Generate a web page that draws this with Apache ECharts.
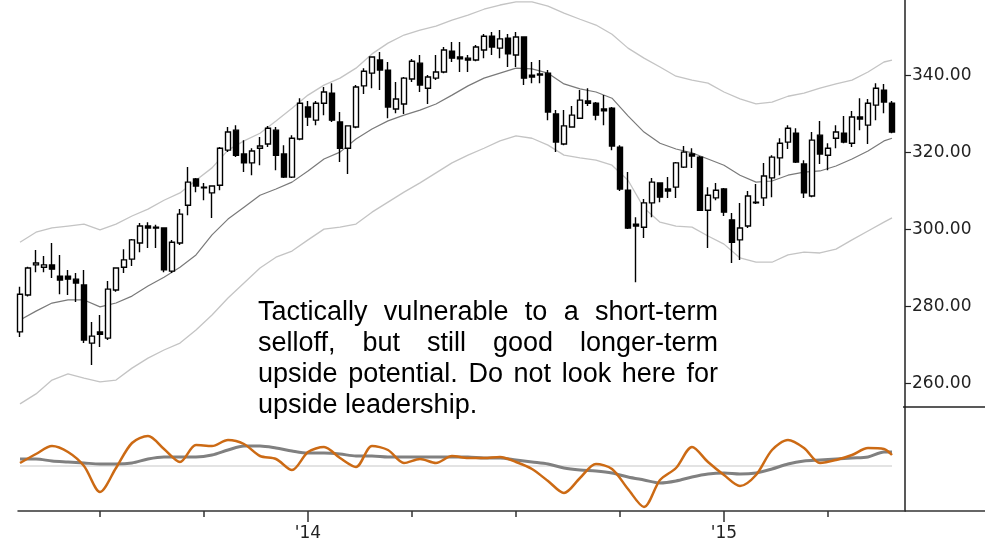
<!DOCTYPE html>
<html>
<head>
<meta charset="utf-8">
<script src="https://cdn.jsdelivr.net/npm/echarts@6/dist/echarts.min.js"></script>
<style>
  html, body { margin: 0; padding: 0; background: #fff; }
  #chart { width: 985px; height: 547px; }
</style>
</head>
<body>
<div id="chart"></div>
<script>
// weekly bars, first bar = week of 2013-04-29; [open, close, low, high]
const candles = [
  [273.3, 283.1, 272.0, 285.0], [282.9, 289.9, 282.5, 290.2], [290.7, 291.2, 288.8, 294.6], [290.1, 290.7, 288.8, 293.0],
  [290.7, 289.6, 287.3, 296.4], [287.8, 286.8, 283.1, 293.3], [287.8, 287.0, 282.9, 289.4], [287.0, 286.0, 281.1, 288.6],
  [285.5, 271.2, 270.4, 289.4], [270.4, 272.2, 264.7, 275.9], [273.3, 272.7, 269.4, 277.7], [271.7, 284.4, 271.2, 286.5],
  [284.2, 289.9, 283.7, 290.1], [290.1, 292.0, 288.6, 294.8], [292.2, 297.2, 290.4, 297.4], [296.4, 300.8, 294.0, 301.6],
  [300.8, 300.3, 295.1, 301.8], [300.5, 300.3, 295.1, 301.1], [300.3, 289.4, 288.8, 300.5], [289.1, 296.6, 288.6, 297.2],
  [296.4, 303.9, 295.9, 305.2], [306.2, 312.2, 303.6, 316.1], [313.0, 311.2, 309.6, 313.3], [310.9, 310.7, 307.5, 312.0],
  [309.4, 311.2, 302.9, 311.4], [311.4, 321.0, 310.1, 321.3], [320.5, 325.2, 320.0, 326.5], [325.7, 319.2, 318.7, 327.0],
  [319.5, 317.2, 314.8, 323.1], [317.2, 320.3, 314.0, 321.0], [321.0, 321.6, 316.6, 323.9], [322.1, 326.2, 321.3, 326.8],
  [325.7, 319.2, 315.3, 326.5], [319.5, 313.5, 313.3, 321.8], [313.5, 323.6, 313.3, 324.4], [323.4, 332.7, 323.1, 334.0],
  [331.7, 329.1, 326.8, 333.3], [328.3, 332.7, 327.0, 333.3], [332.7, 335.6, 329.6, 336.9], [335.3, 328.3, 327.8, 337.9],
  [327.8, 321.0, 317.4, 330.4], [321.0, 326.8, 314.3, 327.0], [326.5, 336.9, 326.2, 337.4], [337.2, 341.0, 335.1, 341.8],
  [340.5, 344.7, 336.6, 344.9], [343.9, 341.3, 336.1, 346.0], [341.3, 331.7, 328.8, 343.4], [331.2, 333.8, 330.1, 338.2],
  [332.5, 339.2, 329.9, 339.5], [339.0, 343.6, 338.2, 344.2], [343.1, 337.4, 335.6, 345.2], [336.6, 339.5, 332.5, 340.0],
  [339.2, 340.8, 338.7, 345.2], [340.8, 346.5, 340.5, 347.3], [346.2, 344.4, 343.4, 348.6], [344.7, 344.2, 340.8, 348.6],
  [344.4, 343.9, 340.8, 345.2], [343.9, 347.3, 343.6, 347.8], [346.5, 350.1, 344.4, 350.7], [350.1, 347.3, 345.2, 351.2],
  [347.0, 349.4, 344.4, 351.7], [349.6, 345.5, 342.1, 350.7], [345.2, 349.9, 342.1, 351.2], [349.9, 339.2, 337.4, 350.1],
  [340.0, 339.5, 337.9, 343.4], [340.0, 340.3, 337.9, 343.9], [340.5, 330.4, 328.3, 341.3], [329.9, 322.6, 320.0, 330.9],
  [322.1, 326.8, 321.8, 330.9], [326.5, 329.6, 326.3, 332.0], [328.8, 333.5, 328.6, 336.1], [333.3, 332.7, 332.0, 336.6],
  [332.7, 329.6, 328.3, 333.0], [331.2, 330.7, 327.0, 334.8], [331.4, 321.6, 320.5, 331.7], [321.3, 310.4, 309.9, 321.8],
  [310.1, 300.3, 300.0, 314.8], [301.3, 300.8, 286.2, 303.1], [300.5, 306.8, 297.7, 307.8], [306.8, 312.2, 303.1, 313.3],
  [312.0, 308.3, 307.0, 312.2], [310.4, 309.9, 308.1, 313.5], [310.9, 317.2, 308.1, 317.4], [316.1, 320.0, 315.9, 321.6],
  [319.5, 319.0, 315.9, 321.0], [318.7, 304.9, 304.7, 319.0], [304.9, 308.8, 295.1, 310.9], [308.1, 310.1, 307.5, 312.0],
  [310.4, 304.4, 303.4, 310.7], [302.4, 296.6, 291.2, 304.2], [297.2, 300.3, 292.0, 306.8], [300.8, 308.6, 300.3, 309.9],
  [307.0, 306.8, 306.5, 311.7], [308.1, 313.8, 306.0, 317.2], [313.3, 318.7, 308.3, 319.2], [318.5, 322.3, 314.0, 323.6],
  [322.6, 326.2, 320.8, 327.0], [324.9, 317.4, 317.2, 326.2], [316.9, 309.4, 308.1, 317.9], [308.6, 323.1, 308.3, 325.2],
  [324.4, 319.5, 316.9, 328.1], [319.2, 321.0, 315.3, 322.3], [323.6, 325.2, 321.0, 327.0], [324.9, 322.6, 322.3, 329.4],
  [322.3, 329.1, 321.3, 330.7], [329.1, 328.6, 325.7, 334.0], [327.0, 332.7, 322.1, 333.8], [332.2, 336.6, 328.3, 337.9],
  [336.1, 333.0, 330.1, 337.7], [332.7, 325.2, 324.9, 333.3]
];

// bar indexes where the channel and oscillator lines were read
const lineIdx = [0, 2, 4, 6, 8, 10, 12, 14, 16, 18, 20, 22, 24, 26, 28, 30, 32, 34, 36, 38, 40, 42, 44, 46, 48, 50,
  52, 54, 56, 58, 60, 62, 64, 66, 68, 70, 72, 74, 76, 78, 80, 82, 84, 86, 88, 90, 92, 94, 96, 98, 100, 102, 104, 106, 108, 109];

const upperBand = [296.6, 299.2, 300.3, 300.8, 301.3, 299.8, 301.3, 303.4, 305.2, 307.5, 309.4, 312.7, 315.9, 320.5,
  322.9, 324.9, 328.1, 331.4, 334.8, 337.4, 339.2, 341.8, 345.5, 348.3, 350.4, 351.7, 352.7, 354.3, 355.6, 357.1,
  358.2, 359.0, 359.0, 357.9, 356.1, 354.5, 353.0, 350.6, 347.0, 344.4, 342.1, 339.7, 338.7, 337.9, 335.6, 333.8,
  332.5, 333.0, 334.5, 335.3, 336.6, 337.7, 338.7, 340.8, 343.4, 343.9];

const middleBand = [276.4, 278.7, 280.8, 281.6, 281.6, 279.8, 280.8, 282.6, 285.2, 287.5, 290.1, 293.3, 298.5, 302.6,
  305.7, 308.8, 310.4, 312.2, 315.1, 318.2, 320.0, 323.4, 326.0, 328.1, 329.6, 330.9, 332.5, 334.8, 337.2, 339.2,
  340.5, 341.8, 341.6, 340.5, 337.7, 336.4, 335.6, 334.0, 329.4, 325.2, 322.3, 320.8, 319.8, 318.2, 316.6, 314.0,
  312.2, 312.5, 314.0, 314.8, 315.1, 316.4, 318.2, 320.3, 322.9, 323.6];

const lowerBand = [254.6, 257.2, 260.8, 262.4, 261.3, 260.3, 260.8, 263.9, 266.5, 268.6, 270.4, 273.8, 277.7, 282.1,
  286.0, 289.9, 292.7, 294.3, 297.2, 300.0, 300.5, 301.3, 304.4, 307.0, 309.6, 312.0, 314.6, 317.2, 319.2, 321.0,
  322.9, 324.2, 323.6, 321.8, 319.2, 318.5, 317.9, 316.6, 312.7, 305.5, 301.8, 300.8, 300.5, 298.2, 296.1, 292.5,
  291.4, 291.4, 293.3, 294.0, 293.8, 294.8, 297.2, 299.5, 301.8, 302.9];

const oscFast = [0.3, 1.2, 2.0, 1.4, 0.0, -2.6, -0.2, 2.3, 3.0, 1.7, 0.4, 2.1, 2.0, 2.6, 2.2, 1.0, 0.7, -0.4, 1.4, 1.9,
  0.8, -0.1, 2.0, 1.6, 0.3, 0.7, 0.3, 1.0, 0.8, 0.8, 0.9, 0.4, -0.3, -1.5, -2.7, -1.2, 0.2, -0.3, -2.3, -4.1,
  -1.4, -0.2, 1.9, 0.4, -0.9, -2.0, -0.9, 1.6, 2.6, 1.8, 0.3, 0.6, 1.1, 1.8, 1.7, 1.1];

const oscSlow = [0.7, 0.7, 0.5, 0.4, 0.3, 0.2, 0.2, 0.3, 0.7, 0.9, 0.9, 0.9, 1.1, 1.6, 2.0, 2.0, 1.8, 1.5, 1.3, 1.3,
  1.2, 1.0, 1.0, 0.9, 0.9, 0.9, 0.9, 0.9, 0.9, 0.8, 0.8, 0.6, 0.4, 0.2, -0.2, -0.4, -0.5, -0.7, -1.1, -1.4,
  -1.7, -1.5, -1.1, -0.8, -0.7, -0.8, -0.7, -0.3, 0.2, 0.5, 0.6, 0.7, 0.8, 0.9, 1.4, 1.4];

const zeroLevel = 0;
const priceTicks = [260, 280, 300, 320, 340];
const quarterTicks = [10, 23, 36, 49, 62, 75, 88, 101];   // Jul '13 ... Apr '15
const yearTicks = [36, 88];
const yearLabels = ["'14", "'15"];

const noteLines = [
  'Tactically vulnerable to a short-term',
  'selloff, but still good longer-term',
  'upside potential. Do not look here for',
  'upside leadership.'
];

const NOTE_FONT = '27px "Liberation Sans", Arial, sans-serif';
const AXIS_FONT = 'DejaVu Sans';

const pairs = (vals) => vals.map((v, k) => [lineIdx[k], v]);

// justified paragraph: every line but the last is stretched to the box width
function noteGraphics(left, right, firstY, lineGap) {
  const ctx = document.createElement('canvas').getContext('2d');
  ctx.font = NOTE_FONT;
  const space = ctx.measureText(' ').width;
  const out = [];
  noteLines.forEach((line, n) => {
    const words = line.split(' ');
    const widths = words.map(w => ctx.measureText(w).width);
    const total = widths.reduce((a, b) => a + b, 0);
    const last = n === noteLines.length - 1;
    const gap = last ? space : Math.max(space * 0.8, (right - left - total) / (words.length - 1));
    let x = left;
    words.forEach((w, k) => {
      out.push({
        type: 'text', x: x, y: firstY + n * lineGap, silent: true,
        style: { text: w, font: NOTE_FONT, fill: '#000', verticalAlign: 'middle' }
      });
      x += widths[k] + gap;
    });
  });
  return out;
}

const chart = echarts.init(document.getElementById('chart'));

const xBase = { type: 'value', min: -0.25, max: 110.625, splitLine: { show: false } };

chart.setOption({
  animation: false,
  backgroundColor: '#fff',
  grid: [
    { left: 18, right: 80, top: 0, height: 407 },
    { left: 18, right: 80, top: 407, height: 104 }
  ],
  xAxis: [
    Object.assign({ gridIndex: 0, show: false }, xBase),
    Object.assign({
      gridIndex: 1, position: 'bottom',
      axisLine: { show: true, onZero: false, lineStyle: { color: '#333', width: 1.5 } },
      axisTick: { show: true, length: 6, customValues: quarterTicks, lineStyle: { color: '#333', width: 1.5 } },
      axisLabel: { show: false }
    }, xBase),
    Object.assign({
      gridIndex: 1, position: 'bottom',
      axisLine: { show: false, onZero: false },
      axisTick: { show: true, length: 11, customValues: yearTicks, lineStyle: { color: '#333', width: 1.5 } },
      axisLabel: {
        customValues: yearTicks,
        formatter: (v) => yearLabels[yearTicks.indexOf(v)],
        fontFamily: AXIS_FONT, fontSize: 17, color: '#222', margin: 14
      }
    }, xBase)
  ],
  yAxis: [
    {
      gridIndex: 0, type: 'value', position: 'right', min: 253.8, max: 359.5,
      splitLine: { show: false },
      axisLine: { show: true, onZero: false, lineStyle: { color: '#222', width: 1.5 } },
      axisTick: { show: true, length: 6, customValues: priceTicks, lineStyle: { color: '#222', width: 1.2 } },
      axisLabel: {
        customValues: priceTicks,
        formatter: (v) => v.toFixed(2),
        fontFamily: AXIS_FONT, fontSize: 17, color: '#222', margin: 7
      }
    },
    {
      gridIndex: 1, type: 'value', position: 'right', min: -4.5, max: 5.9,
      splitLine: { show: false },
      axisLine: { show: true, onZero: false, lineStyle: { color: '#222', width: 1.5 } },
      axisTick: { show: false },
      axisLabel: { show: false }
    }
  ],
  series: [
    {
      type: 'line', xAxisIndex: 0, yAxisIndex: 0, data: pairs(upperBand),
      symbol: 'none', lineStyle: { color: '#c4c4c4', width: 1.3 }, z: 1
    },
    {
      type: 'line', xAxisIndex: 0, yAxisIndex: 0, data: pairs(lowerBand),
      symbol: 'none', lineStyle: { color: '#c4c4c4', width: 1.3 }, z: 1
    },
    {
      type: 'line', xAxisIndex: 0, yAxisIndex: 0, data: pairs(middleBand),
      symbol: 'none', lineStyle: { color: '#7a7a7a', width: 1.2 }, z: 1
    },
    {
      type: 'candlestick', xAxisIndex: 0, yAxisIndex: 0,
      data: candles.map((c, i) => [i, c[0], c[1], c[2], c[3]]),
      encode: { x: 0, y: [1, 2, 3, 4] },
      barWidth: 5,
      itemStyle: {
        color: '#fff', color0: '#000',
        borderColor: '#000', borderColor0: '#000', borderWidth: 1.4
      },
      z: 3
    },
    {
      type: 'line', xAxisIndex: 1, yAxisIndex: 1,
      data: [[0, zeroLevel], [candles.length - 1, zeroLevel]],
      symbol: 'none', lineStyle: { color: '#c8c8c8', width: 1.2 }, z: 1
    },
    {
      type: 'line', xAxisIndex: 1, yAxisIndex: 1, data: pairs(oscSlow),
      symbol: 'none', smooth: 0.3, lineStyle: { color: '#808080', width: 3 }, z: 2
    },
    {
      type: 'line', xAxisIndex: 1, yAxisIndex: 1, data: pairs(oscFast),
      symbol: 'none', smooth: 0.3, lineStyle: { color: '#cc6a14', width: 2.5 }, z: 3
    }
  ],
  graphic: [
    { type: 'line', silent: true, shape: { x1: 903, y1: 407, x2: 985, y2: 407 }, style: { stroke: '#222', lineWidth: 1.5 } },
    { type: 'line', silent: true, shape: { x1: 905, y1: 511, x2: 985, y2: 511 }, style: { stroke: '#333', lineWidth: 1.5 } }
  ].concat(noteGraphics(258, 718, 313, 30.7))
});
</script>
</body>
</html>
